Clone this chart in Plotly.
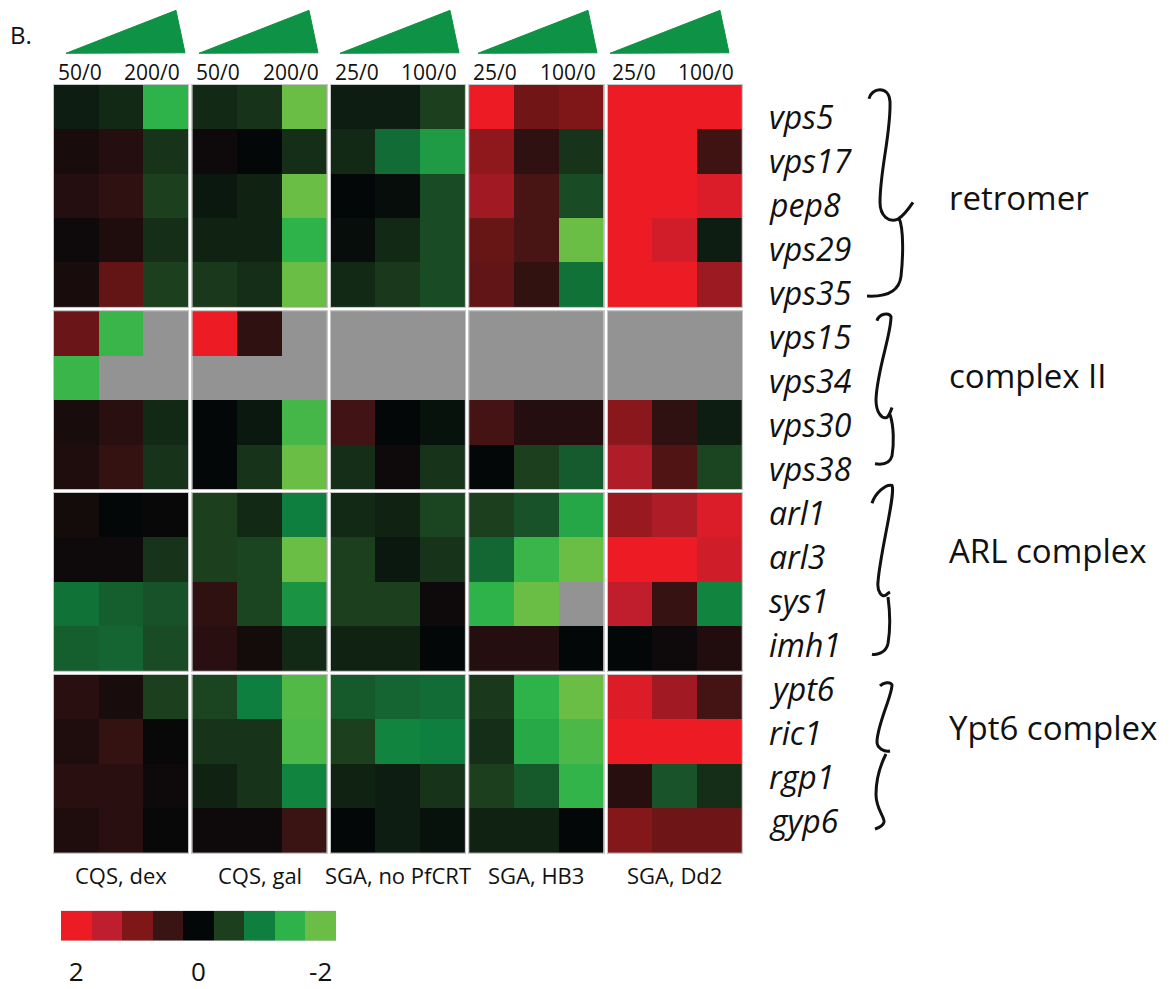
import plotly.graph_objects as go

W, H = 1175, 989
FONT = "Open Sans"

# ---- data -----------------------------------------------------------------
genes = ["vps5", "vps17", "pep8", "vps29", "vps35",
         "vps15", "vps34", "vps30", "vps38",
         "arl1", "arl3", "sys1", "imh1",
         "ypt6", "ric1", "rgp1", "gyp6"]
complex_names = ["retromer", "complex II", "ARL complex", "Ypt6 complex"]
complex_sizes = [5, 4, 4, 4]
conditions = ["CQS, dex", "CQS, gal", "SGA, no PfCRT", "SGA, HB3", "SGA, Dd2"]
dose_low = ["50/0", "50/0", "25/0", "25/0", "25/0"]
dose_high = ["200/0", "200/0", "100/0", "100/0", "100/0"]
legend_values = [2, 1.5, 1, 0.5, 0, -0.5, -1, -1.5, -2]
legend_ticks = ["2", "0", "-2"]

cqs_dex = [
    [-0.2, -0.3, -1.5],
    [0.2, 0.3, -0.4],
    [0.3, 0.4, -0.5],
    [0.1, 0.25, -0.35],
    [0.2, 0.8, -0.5],
    [0.85, -1.6, None],
    [-1.6, None, None],
    [0.2, 0.35, -0.3],
    [0.25, 0.45, -0.4],
    [0.15, 0.0, 0.05],
    [0.1, 0.1, -0.4],
    [-0.9, -0.75, -0.65],
    [-0.75, -0.8, -0.6],
    [0.35, 0.2, -0.5],
    [0.25, 0.45, 0.05],
    [0.35, 0.35, 0.1],
    [0.25, 0.35, 0.05],
]
cqs_gal = [
    [-0.3, -0.4, -2.0],
    [0.1, 0.0, -0.35],
    [-0.15, -0.25, -2.0],
    [-0.25, -0.25, -1.5],
    [-0.45, -0.35, -2.0],
    [2.0, 0.4, None],
    [None, None, None],
    [0.0, -0.15, -1.7],
    [0.0, -0.4, -2.0],
    [-0.5, -0.3, -1.0],
    [-0.5, -0.55, -2.0],
    [0.4, -0.55, -1.2],
    [0.35, 0.15, -0.3],
    [-0.55, -1.0, -1.8],
    [-0.4, -0.4, -1.75],
    [-0.25, -0.4, -1.05],
    [0.1, 0.1, 0.5],
]
sga_no_pfcrt = [
    [-0.2, -0.2, -0.5],
    [-0.3, -0.85, -1.27],
    [0.0, -0.05, -0.6],
    [-0.05, -0.3, -0.6],
    [-0.3, -0.45, -0.6],
    [None, None, None],
    [None, None, None],
    [0.55, 0.0, -0.1],
    [-0.35, 0.1, -0.4],
    [-0.3, -0.25, -0.55],
    [-0.5, -0.15, -0.4],
    [-0.5, -0.5, 0.1],
    [-0.25, -0.25, 0.0],
    [-0.7, -0.8, -0.85],
    [-0.5, -1.05, -1.0],
    [-0.25, -0.2, -0.4],
    [0.0, -0.2, -0.1],
]
sga_hb3 = [
    [2.0, 0.9, 1.0],
    [1.13, 0.4, -0.4],
    [1.27, 0.6, -0.6],
    [0.83, 0.6, -2.0],
    [0.79, 0.43, -0.9],
    [None, None, None],
    [None, None, None],
    [0.58, 0.3, 0.3],
    [0.0, -0.5, -0.72],
    [-0.5, -0.65, -1.38],
    [-0.81, -1.6, -2.0],
    [-1.5, -2.0, None],
    [0.3, 0.3, 0.0],
    [-0.45, -1.5, -2.0],
    [-0.35, -1.4, -1.75],
    [-0.5, -0.71, -1.55],
    [-0.25, -0.25, 0.0],
]
sga_dd2 = [
    [2.0, 2.0, 2.0],
    [2.0, 2.0, 0.54],
    [2.0, 2.0, 1.8],
    [2.0, 1.7, -0.2],
    [2.0, 2.0, 1.23],
    [None, None, None],
    [None, None, None],
    [1.09, 0.4, -0.2],
    [1.39, 0.67, -0.55],
    [1.21, 1.37, 1.8],
    [2.0, 2.0, 1.69],
    [1.52, 0.47, -1.05],
    [0.0, 0.1, 0.27],
    [1.82, 1.27, 0.57],
    [2.0, 2.0, 2.0],
    [0.34, -0.66, -0.35],
    [1.04, 0.88, 0.88],
]
condition_values = [cqs_dex, cqs_gal, sga_no_pfcrt, sga_hb3, sga_dd2]

# red (positive) -> black (0) -> green (negative)
colorscale = [
    [0.000, "#6ABD45"], [0.125, "#2DB34A"], [0.250, "#0E7F3F"],
    [0.375, "#1C3F1E"], [0.500, "#030708"], [0.625, "#3A1313"],
    [0.750, "#7F1618"], [0.875, "#BE1E2D"], [1.000, "#ED1C24"],
]


# ---- pixel helpers ----------------------------------------------------------
def px(x):
    return x / W


def py(y):
    return 1 - y / H


def path_px(d):
    """Convert an SVG path written in pixel coordinates into paper units."""
    toks = d.replace(",", " ").split()
    res = []
    nums = []

    def flush():
        for i in range(0, len(nums), 2):
            res.append(f"{px(nums[i]):.5f},{py(nums[i + 1]):.5f}")
        nums.clear()

    for t in toks:
        if t.isalpha():
            flush()
            res.append(t)
        else:
            nums.append(float(t))
    flush()
    return " ".join(res)


# ---- grid geometry ----------------------------------------------------------
LEFT, RIGHT, TOP, BOTTOM, GAP = 54, 742, 86, 864, 4
n_groups = len(conditions)
n_rows = len(genes)
group_w = (RIGHT - LEFT - GAP * (n_groups - 1)) / n_groups
row_h = (BOTTOM - TOP - GAP * (len(complex_sizes) - 1)) / n_rows

group_x = [(LEFT + g * (group_w + GAP), LEFT + g * (group_w + GAP) + group_w)
           for g in range(n_groups)]
block_y = []
start = 0
for b, n in enumerate(complex_sizes):
    y0 = TOP + start * row_h + b * GAP
    block_y.append((y0, y0 + n * row_h, start, n))
    start += n

fig = go.Figure()
layout = dict()
k = 0
for b, (y0, y1, r0, n) in enumerate(block_y):
    for g, (x0, x1) in enumerate(group_x):
        k += 1
        sfx = "" if k == 1 else str(k)
        z = condition_values[g][r0:r0 + n]
        fig.add_trace(go.Heatmap(
            z=z, x=[0, 1, 2], y=list(range(n)),
            coloraxis="coloraxis", xaxis="x" + sfx, yaxis="y" + sfx,
            hoverongaps=False,
        ))
        axis_common = dict(showgrid=False, zeroline=False, showticklabels=False,
                           ticks="", showline=True, mirror=True,
                           linecolor="#c8c8c8", linewidth=1)
        layout["xaxis" + sfx] = dict(domain=[px(x0), px(x1)], range=[-0.5, 2.5],
                                     anchor="y" + sfx, **axis_common)
        layout["yaxis" + sfx] = dict(domain=[py(y1), py(y0)], range=[n - 0.5, -0.5],
                                     anchor="x" + sfx, **axis_common)

# colour key below the grid
k += 1
sfx = str(k)
fig.add_trace(go.Heatmap(
    z=[legend_values], x=list(range(len(legend_values))), y=[0],
    coloraxis="coloraxis", xaxis="x" + sfx, yaxis="y" + sfx,
))
layout["xaxis" + sfx] = dict(domain=[px(61), px(336)], range=[-0.5, 8.5],
                             anchor="y" + sfx, showgrid=False, zeroline=False,
                             tickvals=[0, 4, 8], ticktext=legend_ticks,
                             ticks="outside", ticklen=8, tickcolor="rgba(0,0,0,0)",
                             tickfont=dict(size=26, color="#111", family=FONT))
layout["yaxis" + sfx] = dict(domain=[py(953), py(923)], range=[-0.5, 0.5],
                             anchor="x" + sfx, showgrid=False, zeroline=False,
                             showticklabels=False)

annotations = []
shapes = []

# panel letter
annotations.append(dict(x=px(8), y=py(35), xref="paper", yref="paper",
                        text="B.", showarrow=False, xanchor="left", yanchor="middle",
                        font=dict(size=24, color="#111", family=FONT)))

# dose wedges and dose labels
wedge_left = [66, 199, 340, 478, 610]
for g, (x0, x1) in enumerate(group_x):
    wl = wedge_left[g]
    shapes.append(dict(type="path", xref="paper", yref="paper",
                       path=path_px(f"M {wl},54 L {wl+110},10.5 L {wl+119},53.5 Z"),
                       fillcolor="#0E9346", line=dict(color="#0E9346", width=1)))
    annotations.append(dict(x=px(x0 + 2), y=py(73), xref="paper", yref="paper",
                            text=dose_low[g], showarrow=False, xanchor="left",
                            yanchor="middle",
                            font=dict(size=21, color="#111", family=FONT)))
    annotations.append(dict(x=px(x1 - 6), y=py(73), xref="paper", yref="paper",
                            text=dose_high[g], showarrow=False, xanchor="right",
                            yanchor="middle",
                            font=dict(size=21, color="#111", family=FONT)))
    annotations.append(dict(x=px((x0 + x1) / 2), y=py(887), xref="paper", yref="paper",
                            text=conditions[g], showarrow=False, xanchor="center",
                            yanchor="middle",
                            font=dict(size=22, color="#111", family=FONT)))

# gene names (evenly spaced column of labels)
for i, gname in enumerate(genes):
    annotations.append(dict(x=px(767), y=py(118 + i * 44.6), xref="paper", yref="paper",
                            text=f"<i>{gname}</i>", showarrow=False, xanchor="left",
                            yanchor="middle",
                            font=dict(size=32, color="#111", family=FONT)))

# complex names
complex_label_y = [200, 380, 558, 737]
for name, yy in zip(complex_names, complex_label_y):
    annotations.append(dict(x=px(947), y=py(yy), xref="paper", yref="paper",
                            text=name, showarrow=False, xanchor="left",
                            yanchor="middle",
                            font=dict(size=33, color="#111", family=FONT)))

# hand-drawn style braces
braces = [
    "M 869,100 C 871,89 889,86 890,103 C 891,135 880,172 880,205 "
    "C 880,219 889,226 898,222 C 904,218 909,211 913,205 "
    "M 899,221 C 904,232 903,262 901,280 C 899,296 886,301 867,300",
    "M 877,325 C 879,318 889,316 891,321 C 891,340 877,375 876,405 "
    "C 876,418 882,425 887,423 C 889,421 891,416 892,413 "
    "M 890,420 C 894,432 894,450 892,462 C 890,470 882,471 875,470",
    "M 872,510 C 875,500 886,490 892,492 C 896,500 880,560 878,590 "
    "C 877,600 882,606 886,603 C 888,601 890,600 890,600 "
    "M 888,605 C 890,620 890,640 888,652 C 886,662 876,664 872,663",
    "M 880,695 C 883,692 890,690 892,694 C 892,705 877,735 877,752 "
    "C 877,758 884,762 890,761 "
    "M 886,764 C 880,776 876,790 876,805 C 876,820 885,828 884,833 "
    "C 883,837 878,839 875,840",
]
for d in braces:
    shapes.append(dict(type="path", xref="paper", yref="paper", path=path_px(d),
                       line=dict(color="#111", width=3)))

fig.update_layout(
    width=W, height=H,
    margin=dict(l=0, r=0, t=0, b=0),
    paper_bgcolor="white",
    plot_bgcolor="#939393",
    showlegend=False,
    coloraxis=dict(colorscale=colorscale, cmin=-2, cmax=2, showscale=False),
    annotations=annotations,
    shapes=shapes,
    font=dict(family=FONT, color="#111"),
    **layout,
)

fig.write_html("out.html")
